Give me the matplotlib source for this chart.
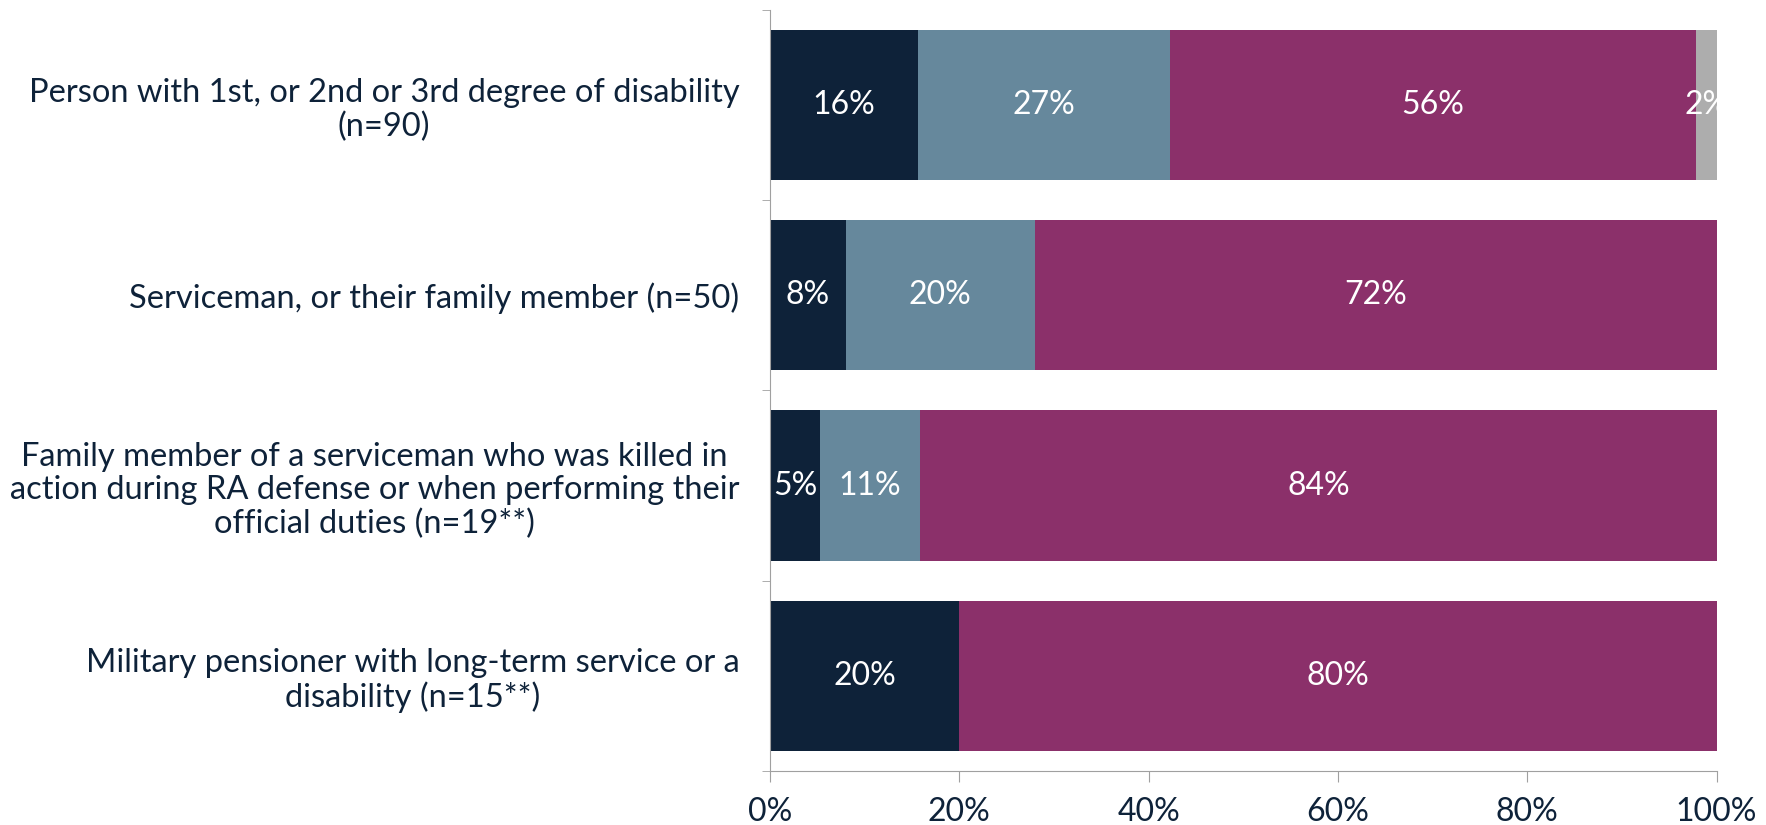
import matplotlib.pyplot as plt
import numpy as np

categories = [
    "Person with 1st, or 2nd or 3rd degree of disability\n(n=90)",
    "Serviceman, or their family member (n=50)",
    "Family member of a serviceman who was killed in\naction during RA defense or when performing their\nofficial duties (n=19**)",
    "Military pensioner with long-term service or a\ndisability (n=15**)",
]
seg1 = [15.6, 8.0, 5.3, 20.0]
seg2 = [26.7, 20.0, 10.53, 0.0]
seg3 = [55.5, 72.0, 84.2, 80.0]
seg4 = [2.2, 0.0, 0.0, 0.0]
colors = ['#0E2239', '#66889C', '#8B306A', '#ADADAD']
tick_vals = [0, 20, 40, 60, 80, 100]

plt.rcParams['font.family'] = ['Lato', 'DejaVu Sans']

fig = plt.figure(figsize=(17.66, 8.25), dpi=100)
ax = fig.add_axes([0.436, 0.0655, 0.536, 0.9225])

y = np.arange(len(categories))
left = np.zeros(len(categories))
for vals, c in zip([seg1, seg2, seg3, seg4], colors):
    vals = np.array(vals)
    ax.barh(y, vals, left=left, height=0.79, color=c)
    for yi, v, l in zip(y, vals, left):
        if v > 0:
            ax.text(l + v / 2, yi, '%d%%' % int(v + 0.5), ha='center', va='center',
                    color='white', fontsize=23, clip_on=True)
    left += vals

ax.set_xlim(0, 100)
ax.set_ylim(len(categories) - 0.5, -0.5)
ax.set_xticks(tick_vals)
ax.set_xticklabels(['%d%%' % t for t in tick_vals], fontsize=23, color='#0E2239')
ax.set_yticks(y)
ax.set_yticklabels(categories, fontsize=23.5, color='#0E2239', multialignment='center',
                   linespacing=1.15)
ax.tick_params(axis='y', length=0, pad=22)
ax.set_yticks(np.arange(-0.5, len(categories)), minor=True)
ax.tick_params(axis='y', which='minor', length=6, color='#A0A0A0')
ax.tick_params(axis='x', length=8, color='#A0A0A0', pad=11)

for s in ['top', 'right']:
    ax.spines[s].set_visible(False)
for s in ['left', 'bottom']:
    ax.spines[s].set_color('#A0A0A0')

fig.savefig('out.png', dpi=100)
